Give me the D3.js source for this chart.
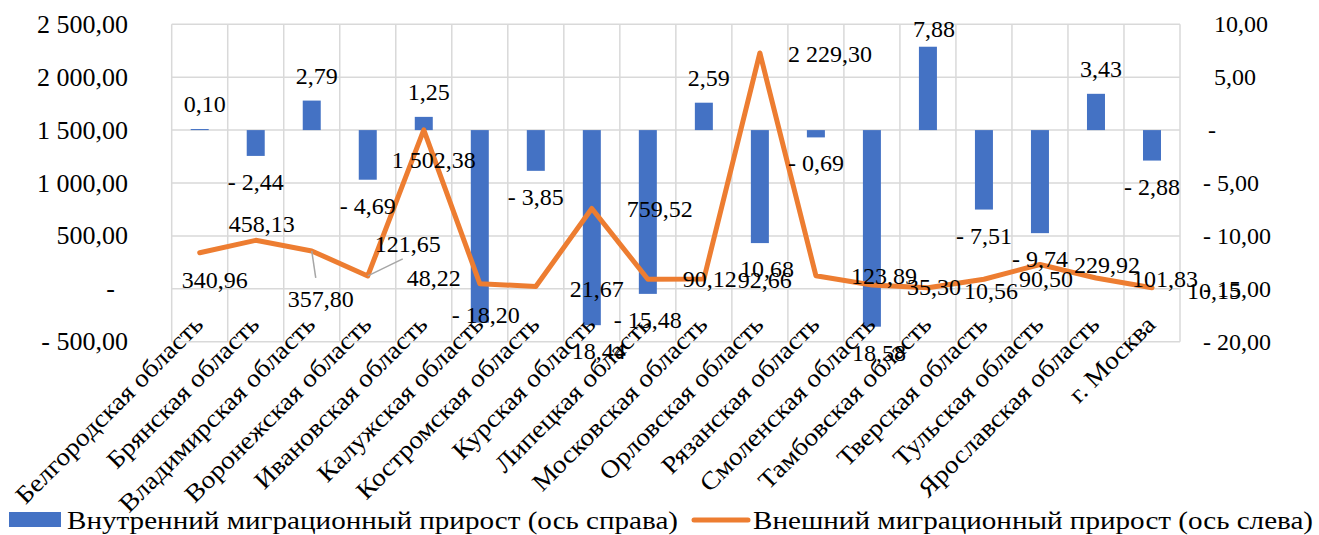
<!DOCTYPE html>
<html><head><meta charset="utf-8">
<script src="https://cdn.jsdelivr.net/npm/d3@7"></script>
<style>
body{margin:0;background:#fff}
svg{display:block}
</style>
</head><body>
<svg id="c" width="1319" height="535"></svg>
<script>
// ---------- data ----------
const categories = ["Белгородская область","Брянская область","Владимирская область","Воронежская область","Ивановская область","Калужская область","Костромская область","Курская область","Липецкая область","Московская область","Орловская область","Рязанская область","Смоленская область","Тамбовская область","Тверская область","Тульская область","Ярославская область","г. Москва"];
const internalGrowth = [0.10,-2.44,2.79,-4.69,1.25,-18.20,-3.85,-18.44,-15.48,2.59,-10.68,-0.69,-18.58,7.88,-7.51,-9.74,3.43,-2.88];
const externalGrowth = [340.96,458.13,357.80,121.65,1502.38,48.22,21.67,759.52,90.12,92.66,2229.30,123.89,35.30,10.56,90.50,229.92,101.83,10.15];
const leftTicks = [-500,0,500,1000,1500,2000,2500];
const rightTicks = [-20,-15,-10,-5,0,5,10];
const seriesNames = ["Внутренний миграционный прирост (ось справа)","Внешний миграционный прирост (ось слева)"];

// ---------- layout (label placement only) ----------
const lineLabelOffsets = [[15,35],[6,-8],[9,56],[40,-24],[10,38],[-46,2],[61,10],[68,9],[62,8],[61,9],[70,9],[68,8],[62,10],[63,11],[62,8],[67,9],[69,9],[62,11]];
const leaders = {2:[4,27], 3:[35,-17]};
const barLabelOverride = {5:[6,0], 13:[6,-10]};
const minusHidden = new Set([7,10,12]);

const left0=171.7, right0=1180, top0=24.3, bottom0=341.7;
const svg=d3.select("#c");
const BLUE="#4472C4", ORANGE="#ED7D31", GRID="#d9d9d9";

function T(sel,size){ return sel.append("text").style("font-family",'"Liberation Serif"').attr("font-size",size).attr("fill","#000"); }

const loc=d3.formatLocale({decimal:",",thousands:"\u00a0",grouping:[3],currency:["",""]});
const f2=loc.format(",.2f");
const fmt=v=> v===0?"-":(v<0?"- "+f2(-v):f2(v));

const x=d3.scaleBand().domain(categories).range([left0,right0]).padding(0);
const yL=d3.scaleLinear().domain([-500,2500]).range([bottom0,top0]);
const yR=d3.scaleLinear().domain([-20,10]).range([bottom0,top0]);
const bw=x.bandwidth(), barW=18;
const cx=c=>x(c)+bw/2;

// grid
const g=svg.append("g");
g.selectAll("line.h").data(leftTicks).join("line")
 .attr("x1",left0).attr("x2",right0).attr("y1",d=>yL(d)).attr("y2",d=>yL(d))
 .attr("stroke",GRID).attr("stroke-width",1.5);
g.selectAll("line.v").data(categories.map(c=>x(c)).concat([right0])).join("line")
 .attr("x1",d=>d).attr("x2",d=>d).attr("y1",top0).attr("y2",bottom0)
 .attr("stroke",GRID).attr("stroke-width",1.5);

// axis tick labels (positioned by scales)
leftTicks.forEach(v=>{
  T(svg,26).attr("x",v===0?115:128).attr("y",yL(v)).attr("dy","0.33em").attr("text-anchor","end").text(fmt(v));
});
rightTicks.forEach(v=>{
  T(svg,24).attr("x",1203+(v>0?11:(v===0?5:0))).attr("y",yR(v)).attr("dy","0.33em").text(fmt(v));
});

// bars
svg.append("g").selectAll("rect").data(categories).join("rect")
 .attr("x",(c)=>cx(c)-barW/2).attr("width",barW)
 .attr("y",(c,i)=>Math.min(yR(internalGrowth[i]),yR(0)))
 .attr("height",(c,i)=>Math.abs(yR(internalGrowth[i])-yR(0)))
 .attr("fill",BLUE);

// line
const pts=categories.map((c,i)=>[cx(c),yL(externalGrowth[i])]);
svg.append("path").attr("d",d3.line()(pts)).attr("fill","none")
 .attr("stroke",ORANGE).attr("stroke-width",5).attr("stroke-linejoin","round").attr("stroke-linecap","round");

// bar labels
categories.forEach((c,i)=>{
  const v=internalGrowth[i], o=barLabelOverride[i];
  let xx=cx(c)+(o?o[0]:(v>0?5:0));
  const yy=o? yR(v)+o[1] : (v>=0? yR(v)-17 : yR(v)+34);
  let s=fmt(v);
  if(minusHidden.has(i)){ s=f2(Math.abs(v)); xx+=7; }
  T(svg,24).attr("x",xx).attr("y",yy).attr("text-anchor","middle").text(s);
});

// leader lines
Object.keys(leaders).forEach(k=>{
  const i=+k, p=pts[i], d=leaders[k];
  svg.append("line").attr("x1",p[0]).attr("y1",p[1]).attr("x2",p[0]+d[0]).attr("y2",p[1]+d[1])
   .attr("stroke","#a6a6a6").attr("stroke-width",1.5);
});

// line labels
categories.forEach((c,i)=>{
  T(svg,24).attr("x",pts[i][0]+lineLabelOffsets[i][0]).attr("y",pts[i][1]+lineLabelOffsets[i][1])
   .attr("text-anchor","middle").text(fmt(externalGrowth[i]));
});

// category labels
categories.forEach(c=>{
  const t=T(svg,25).attr("text-anchor","end").attr("transform",`translate(${cx(c)+5},326) rotate(-45)`).text(c);
  const n=t.node().getComputedTextLength();
  t.attr("textLength",n*1.1).attr("lengthAdjust","spacingAndGlyphs");
});

// legend
svg.append("rect").attr("x",9).attr("y",512).attr("width",52).attr("height",15).attr("fill",BLUE);
T(svg,26).attr("x",67).attr("y",529).attr("textLength",611).attr("lengthAdjust","spacingAndGlyphs").text(seriesNames[0]);
svg.append("line").attr("x1",694).attr("x2",748).attr("y1",520).attr("y2",520)
 .attr("stroke",ORANGE).attr("stroke-width",5).attr("stroke-linecap","round");
T(svg,26).attr("x",753).attr("y",529).attr("textLength",560).attr("lengthAdjust","spacingAndGlyphs").text(seriesNames[1]);
</script>
</body></html>
